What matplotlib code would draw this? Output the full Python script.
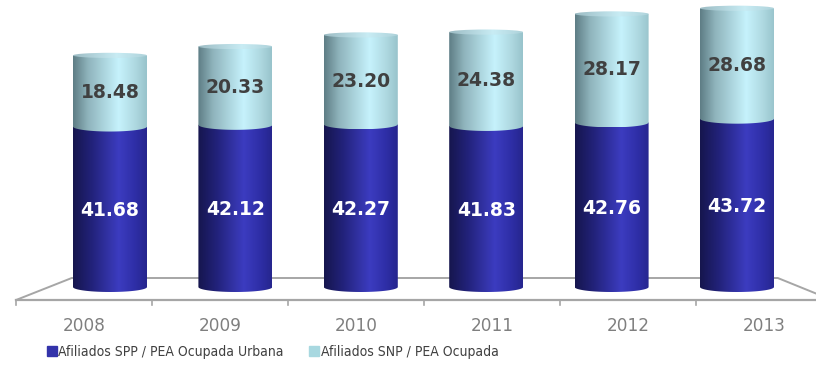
import numpy as np
import matplotlib
matplotlib.use('Agg')
import matplotlib.pyplot as plt
from matplotlib import font_manager
from matplotlib.path import Path
from matplotlib.patches import PathPatch, Ellipse, Patch
from matplotlib.colors import to_rgb

years = ['2008', '2009', '2010', '2011', '2012', '2013']
spp = [41.68, 42.12, 42.27, 41.83, 42.76, 43.72]   # Afiliados SPP / PEA Ocupada Urbana
snp = [18.48, 20.33, 23.20, 24.38, 28.17, 28.68]   # Afiliados SNP / PEA Ocupada

W, H = 816, 374
PX_X = 125.4          # pixels per category step
PX_Y = 3.85           # pixels per percentage point
X0, Y0 = 110, 287     # pixel spot of first cylinder base

fig = plt.figure(figsize=(W / 100, H / 100), dpi=100)
ax = fig.add_axes([0, 0, 1, 1])
ax.set_xlim(-X0 / PX_X, (W - X0) / PX_X)
ax.set_ylim(-(H - Y0) / PX_Y, Y0 / PX_Y)
ax.axis('off')

BW = 74 / PX_X        # cylinder width
EB = 5 / PX_Y         # bottom ellipse half height
ET = 2.6 / PX_Y       # top cap half height


def shade(stops, n=80):
    xs = np.linspace(0, 1, n)
    pos = [p for p, _ in stops]
    cols = np.array([to_rgb(c) for _, c in stops])
    return np.stack([np.interp(xs, pos, cols[:, k]) for k in range(3)], axis=-1)[None, :, :]


blue_grad = shade([(0, '#16164e'), (0.25, '#22227a'), (0.62, '#3c3cc0'), (0.85, '#2e2ea6'), (1, '#26268e')])
light_grad = shade([(0, '#5f7e86'), (0.2, '#8fb4bc'), (0.62, '#c6f2fc'), (0.85, '#aed8e0'), (1, '#98c4cc')])
cap_grad = shade([(0, '#9cbcc4'), (0.6, '#c8ecf4'), (1, '#aed2da')])


def body(x, y0, y1, grad):
    # side of a cylinder segment with rounded bottom
    t = np.linspace(np.pi, 2 * np.pi, 40)
    bx = x + BW / 2 * np.cos(t)
    by = y0 + EB * np.sin(t)
    verts = list(zip(bx, by)) + [(x + BW / 2, y1), (x - BW / 2, y1), (bx[0], by[0])]
    codes = [Path.MOVETO] + [Path.LINETO] * (len(verts) - 2) + [Path.CLOSEPOLY]
    patch = PathPatch(Path(verts, codes), fc='none', ec='none')
    ax.add_patch(patch)
    im = ax.imshow(grad, extent=(x - BW / 2, x + BW / 2, y0 - EB, y1),
                   aspect='auto', interpolation='bilinear', zorder=2)
    im.set_clip_path(patch)


def cap(x, y, grad):
    e = Ellipse((x, y), BW, 2 * ET, fc='none', ec='none')
    ax.add_patch(e)
    im = ax.imshow(grad, extent=(x - BW / 2, x + BW / 2, y - ET, y + ET),
                   aspect='auto', interpolation='bilinear', zorder=3)
    im.set_clip_path(e)


# narrow face for the legend, if one is around
names = {f.name for f in font_manager.fontManager.ttflist}
narrow = [f for f in ['Liberation Sans Narrow', 'DejaVu Sans Condensed'] if f in names]
condensed_dejavu = any(f.name == 'DejaVu Sans' and f.stretch == 'condensed'
                       for f in font_manager.fontManager.ttflist)
if narrow:
    legend_font = {'family': narrow[0], 'size': 10}
elif condensed_dejavu:
    legend_font = {'family': 'DejaVu Sans', 'stretch': 'condensed', 'size': 10}
else:
    legend_font = {'family': 'Liberation Sans', 'size': 10}

# floor (perspective trapezoid)
grey = '#a6a6a6'
n = len(years)
back_y = 9 / PX_Y
front_y = -13 / PX_Y
front_x = lambda v: v * 1.0845 - 0.207
bl, br = -BW / 2 - 0.01, n - 1 + BW / 2 + 0.03
ax.plot([front_x(-0.5), bl, br, front_x(n - 0.5)],
        [front_y, back_y, back_y, front_y], color=grey, lw=1.4, zorder=1)
ax.plot([front_x(-0.5), front_x(n - 0.5)], [front_y, front_y], color=grey, lw=1.6, zorder=1)
for i in range(n + 1):
    xt = front_x(i - 0.5)
    ax.plot([xt, xt], [front_y, front_y - 5 / PX_Y], color=grey, lw=1.2, zorder=1)
for i, yr in enumerate(years):
    ax.text(front_x(i), front_y - 26 / PX_Y, yr, ha='center', va='center',
            fontsize=12.2, color='#7f7f7f', family='DejaVu Sans')

# cylinders
for i in range(n):
    a, b = spp[i], snp[i]
    body(i, 0, a, blue_grad)
    body(i, a, a + b, light_grad)
    cap(i, a + b, cap_grad)
    ax.text(i, a / 2 - 1, f'{a:.2f}', ha='center', va='center', fontsize=13.5,
            fontweight='bold', color='white', family='DejaVu Sans', zorder=5)
    ax.text(i, a + b / 2 - 0.4, f'{b:.2f}', ha='center', va='center', fontsize=13.5,
            fontweight='bold', color='#404040', family='DejaVu Sans', zorder=5)

handles = [Patch(color='#3333aa'), Patch(color='#a8d8e0')]
labels = ['Afiliados SPP / PEA Ocupada Urbana', 'Afiliados SNP / PEA Ocupada']
fig.legend(handles, labels, loc='center left', bbox_to_anchor=(34 / W, 1 - 352 / H),
           ncol=2, frameon=False, handlelength=0.75, handleheight=0.75,
           handletextpad=0.1, columnspacing=1.8, labelcolor='#404040',
           prop=legend_font)

fig.savefig('out.png', dpi=100)
